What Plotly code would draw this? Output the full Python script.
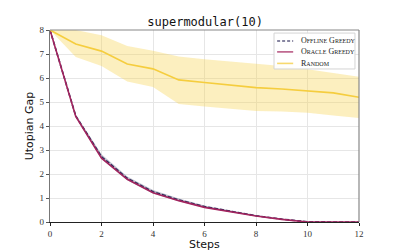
import plotly.graph_objects as go

steps = list(range(13))
offline_mean = [8.0, 4.42, 2.72, 1.82, 1.26, 0.92, 0.64, 0.44, 0.26, 0.12, 0.01, 0.0, 0.0]
offline_lo = [8.0, 4.36, 2.62, 1.74, 1.19, 0.86, 0.59, 0.40, 0.23, 0.10, 0.0, 0.0, 0.0]
offline_hi = [8.0, 4.48, 2.82, 1.90, 1.33, 0.98, 0.69, 0.48, 0.29, 0.14, 0.02, 0.0, 0.0]
oracle = [8.0, 4.40, 2.66, 1.78, 1.22, 0.89, 0.61, 0.42, 0.25, 0.11, 0.0, 0.0, 0.0]
random_mean = [8.0, 7.42, 7.12, 6.58, 6.38, 5.92, 5.81, 5.70, 5.60, 5.54, 5.47, 5.38, 5.20]
random_lo = [8.0, 6.87, 6.50, 5.85, 5.63, 4.92, 4.81, 4.71, 4.63, 4.60, 4.55, 4.44, 4.33]
random_hi = [8.0, 8.0, 7.78, 7.33, 7.14, 6.90, 6.78, 6.68, 6.60, 6.50, 6.36, 6.20, 6.05]
x_ticks = [0, 2, 4, 6, 8, 10, 12]
y_ticks = [0, 1, 2, 3, 4, 5, 6, 7, 8]
series_names = ["Offline Greedy", "Oracle Greedy", "Random"]

NAVY = "#2c2a5a"
MAG = "#a3245e"
YEL = "#f5cd3e"

fig = go.Figure()
fig.add_trace(go.Scatter(x=steps, y=random_hi, mode="lines", line=dict(width=0),
                         showlegend=False, hoverinfo="skip"))
fig.add_trace(go.Scatter(x=steps, y=random_lo, mode="lines", line=dict(width=0),
                         fill="tonexty", fillcolor="rgba(247,209,71,0.35)",
                         showlegend=False, hoverinfo="skip"))
fig.add_trace(go.Scatter(x=steps, y=offline_hi, mode="lines", line=dict(width=0),
                         showlegend=False, hoverinfo="skip"))
fig.add_trace(go.Scatter(x=steps, y=offline_lo, mode="lines", line=dict(width=0),
                         fill="tonexty", fillcolor="rgba(44,42,90,0.3)",
                         showlegend=False, hoverinfo="skip"))
fig.add_trace(go.Scatter(x=steps, y=offline_mean, mode="lines", name=series_names[0],
                         line=dict(color=NAVY, width=1.6, dash="4px,2px"), showlegend=False))
fig.add_trace(go.Scatter(x=steps, y=oracle, mode="lines", name=series_names[1],
                         line=dict(color=MAG, width=1.6), showlegend=False))
fig.add_trace(go.Scatter(x=steps, y=random_mean, mode="lines", name=series_names[2],
                         line=dict(color=YEL, width=1.6), showlegend=False))

serif = "Liberation Serif, DejaVu Serif, serif"
fig.update_layout(
    width=391, height=242,
    margin=dict(l=42, r=40, t=22, b=28, autoexpand=False),
    paper_bgcolor="white", plot_bgcolor="white",
    title=dict(text="supermodular(10)", x=0.504, xanchor="center", y=0.945, yanchor="middle",
               font=dict(family="DejaVu Sans Mono, monospace", size=12, color="#111")),
    showlegend=False,
)
fig.update_xaxes(range=[0, 12], tickvals=x_ticks, showgrid=True, gridcolor="#e6e6e6", gridwidth=1,
                 zeroline=False, showline=True, linecolor="#222", linewidth=1.2, automargin=False,
                 ticks="outside", ticklen=3, tickcolor="#222",
                 tickfont=dict(family=serif, size=9, color="#333"))
fig.update_yaxes(range=[0, 8], tickvals=y_ticks, showgrid=True, gridcolor="#e6e6e6", gridwidth=1,
                 zeroline=False, showline=True, linecolor="#777", linewidth=1.2, automargin=False,
                 ticks="outside", ticklen=3, tickcolor="#555",
                 tickfont=dict(family=serif, size=9, color="#333"),
                 title=dict(text="Utopian Gap", font=dict(family="DejaVu Sans, sans-serif", size=11, color="#111"),
                            standoff=3))
# x axis title
fig.add_annotation(xref="paper", yref="paper", x=0.5, y=-0.115, xanchor="center", yanchor="middle",
                   text="Steps", showarrow=False,
                   font=dict(family="DejaVu Sans, sans-serif", size=11, color="#111"))
# top and right spines
fig.add_shape(type="line", xref="paper", yref="paper", x0=0, x1=1, y0=1, y1=1,
              line=dict(color="#888", width=1.2))
fig.add_shape(type="line", xref="paper", yref="paper", x0=1, x1=1, y0=0, y1=1,
              line=dict(color="#888", width=1.2))

# compact legend box
fig.add_shape(type="rect", xref="paper", yref="paper", x0=0.725, x1=0.987, y0=0.797, y1=0.984,
              fillcolor="rgba(255,255,255,0.9)", line=dict(color="#d4d4d4", width=1))
leg_colors = [NAVY, MAG, YEL]
leg_dash = ["3px,2px", "solid", "solid"]
leg_y = [0.943, 0.886, 0.826]
for name, col, dsh, yy in zip(series_names, leg_colors, leg_dash, leg_y):
    fig.add_shape(type="line", xref="paper", yref="paper", x0=0.735, x1=0.787, y0=yy, y1=yy,
                  line=dict(color=col, width=1.6, dash=dsh), opacity=0.75)
    fig.add_annotation(xref="paper", yref="paper", x=0.805, y=yy, xanchor="left", yanchor="middle",
                       text=name, showarrow=False,
                       font=dict(family=serif, size=8, color="#222", variant="small-caps"))

fig.write_html("out.html")
